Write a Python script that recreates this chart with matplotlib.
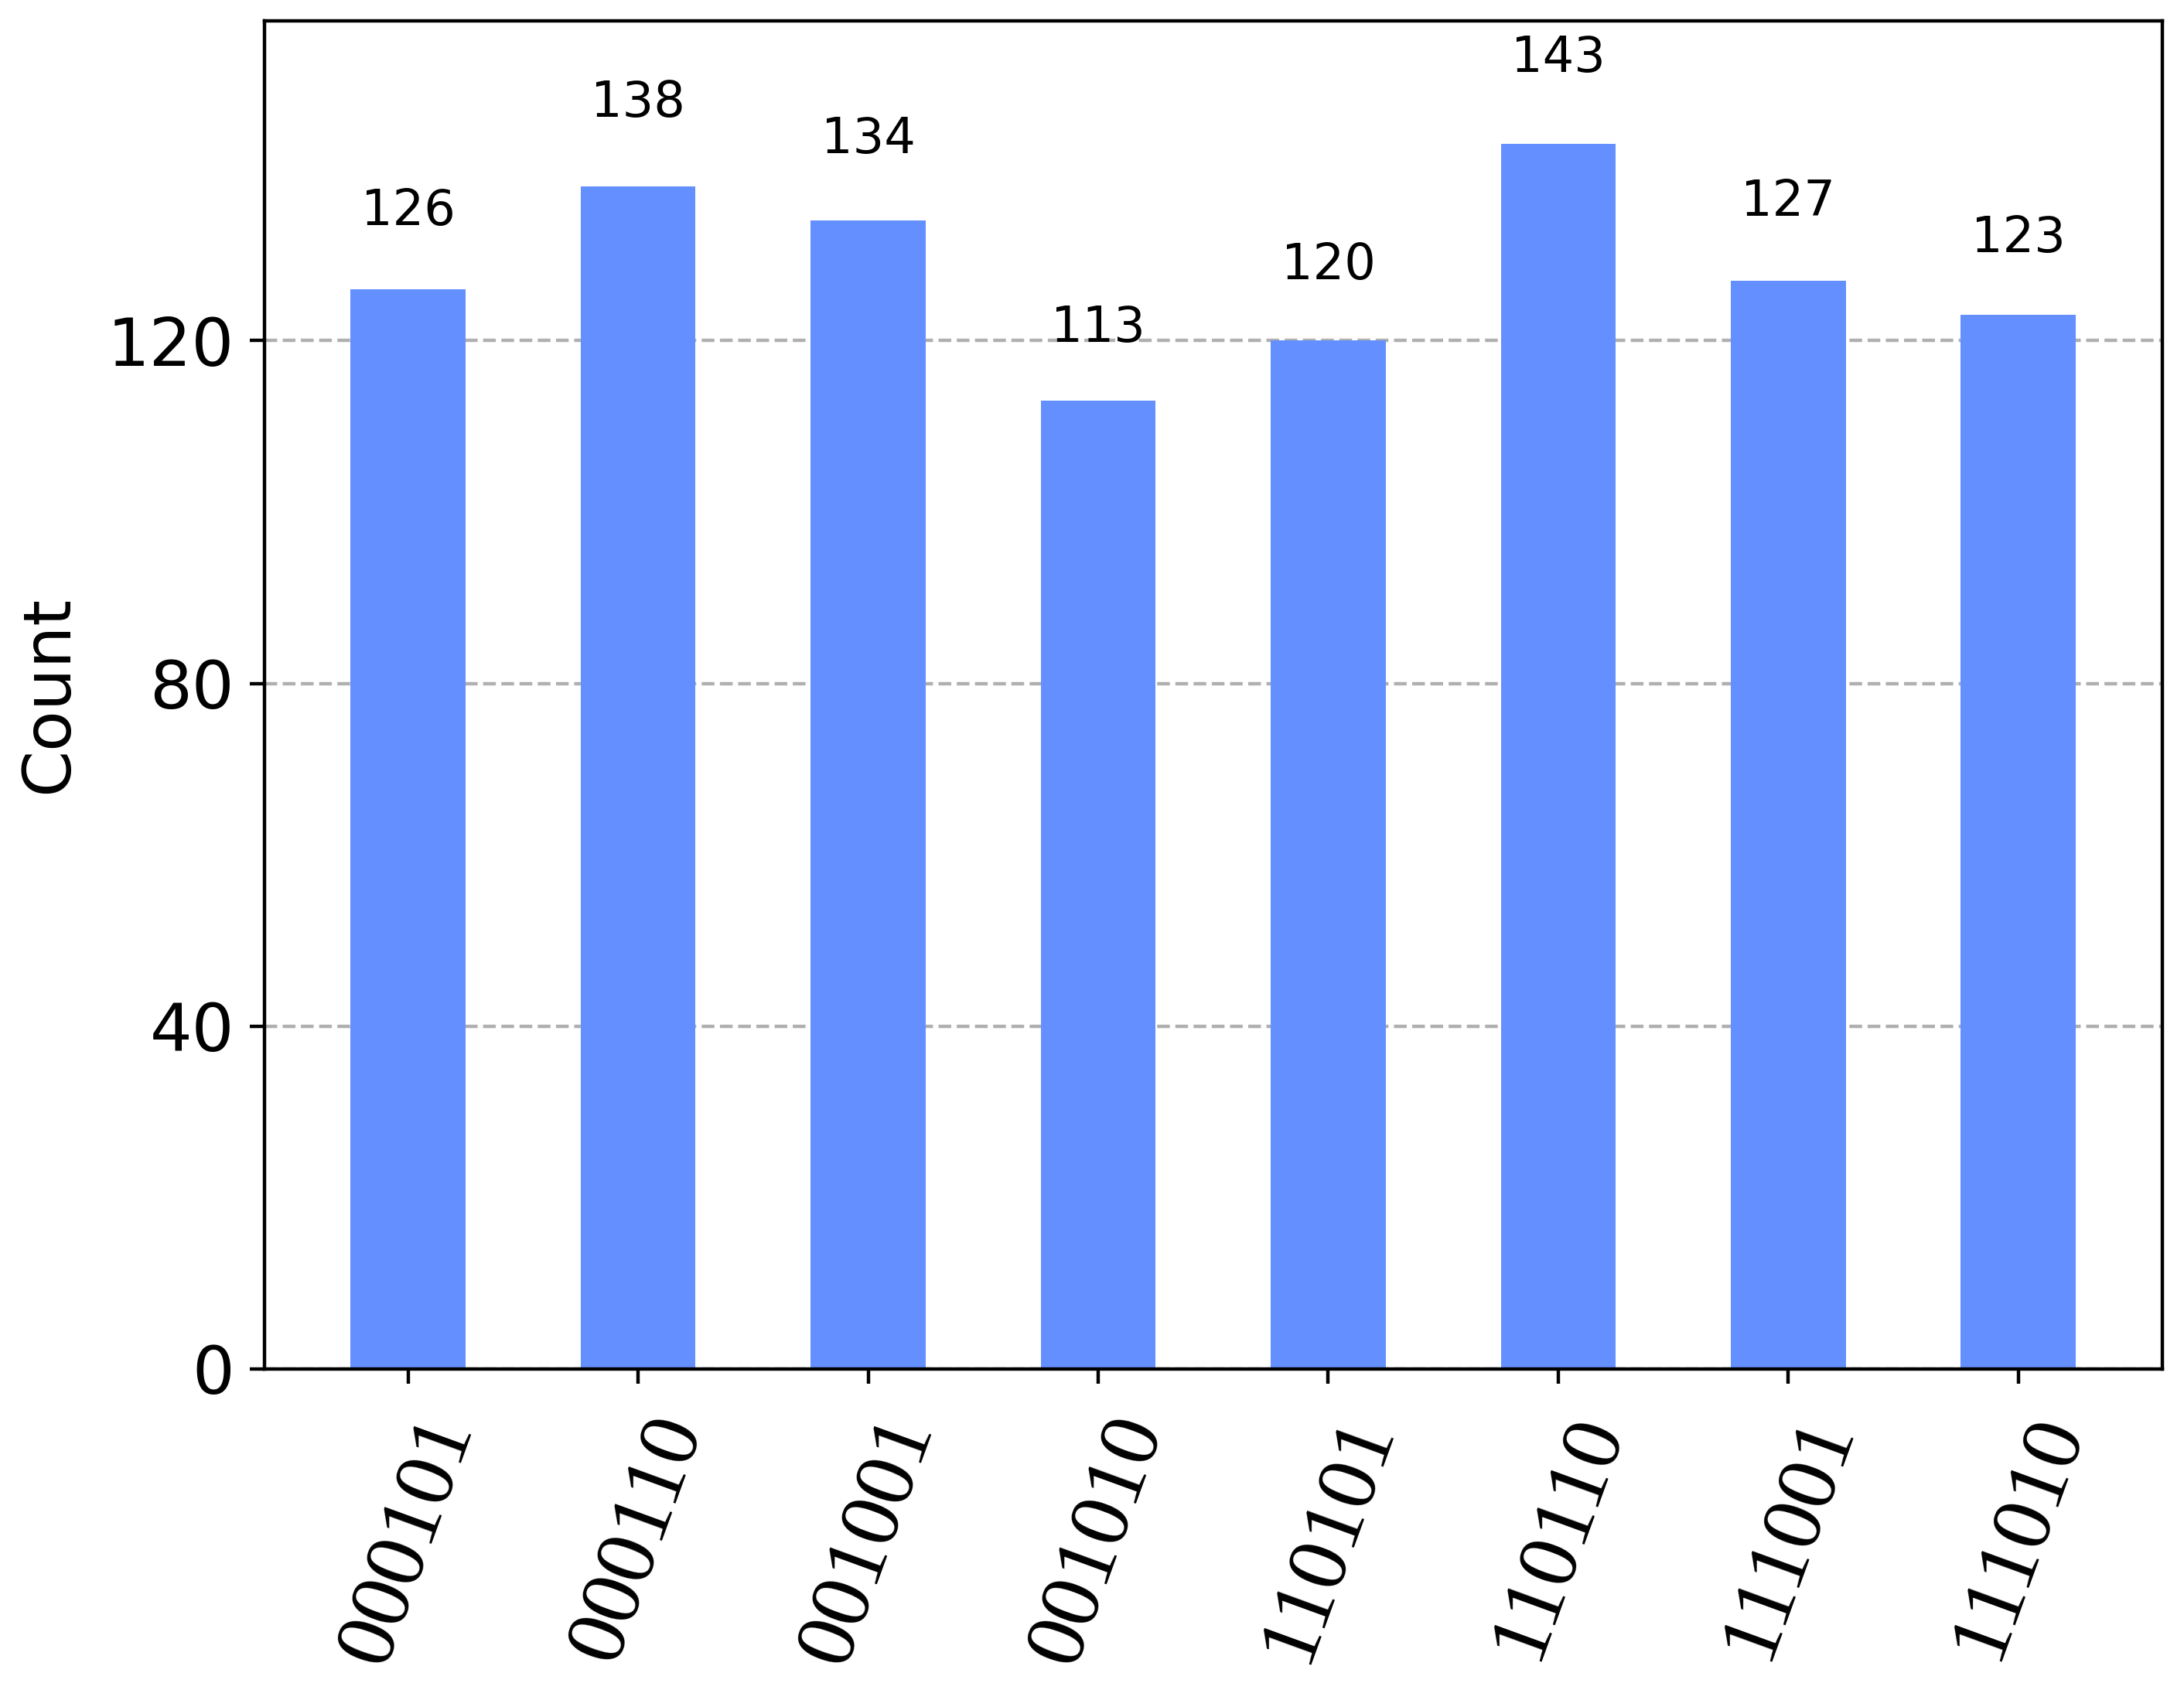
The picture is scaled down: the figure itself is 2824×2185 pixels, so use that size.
import matplotlib
matplotlib.use("Agg")
import matplotlib.pyplot as plt

# Measurement outcomes and counts
states = ["000101", "000110", "001001", "001010", "110101", "110110", "111001", "111010"]
counts = [126, 138, 134, 113, 120, 143, 127, 123]
yticks = [0, 40, 80, 120]

fig = plt.figure(figsize=(2824 / 400, 2185 / 400), dpi=400)
ax = fig.add_axes([0.121, 0.190, 0.869, 0.7976])

pos = list(range(len(states)))
bars = ax.bar(pos, counts, width=0.5, color="#648fff", zorder=2)

# value labels above each bar
for rect, c in zip(bars, counts):
    ax.text(rect.get_x() + rect.get_width() / 2.0, 1.05 * c, str(c),
            ha="center", va="bottom", fontsize=11.5)

ax.set_ylim(0, max(counts) * 1.1)
ax.set_yticks(yticks)
ax.set_xticks(pos)
ax.set_xticklabels(states, rotation=70, fontsize=20, family="Liberation Serif")
ax.tick_params(axis="x", pad=5)
ax.tick_params(axis="y", labelsize=15.5)
ax.set_ylabel("Count", fontsize=15.5, labelpad=6)
ax.grid(which="major", axis="y", linestyle="--", zorder=0)
ax.set_axisbelow(True)

fig.savefig("out.png", dpi=400)
